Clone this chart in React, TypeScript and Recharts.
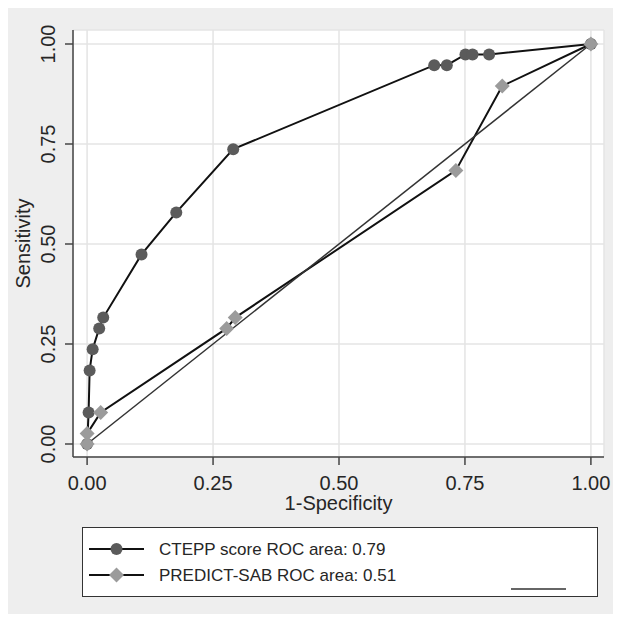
import { ComposedChart, Line, XAxis, YAxis, CartesianGrid, Label } from 'recharts';

// 1-specificity / sensitivity
const cteppFpr = [0, 0.003, 0.005, 0.011, 0.024, 0.032, 0.108, 0.177, 0.29, 0.689, 0.714, 0.751, 0.765, 0.798, 1];
const cteppSens = [0, 0.079, 0.184, 0.237, 0.289, 0.316, 0.474, 0.579, 0.737, 0.947, 0.947, 0.974, 0.974, 0.974, 1];
const predictFpr = [0, 0, 0.027, 0.277, 0.294, 0.732, 0.824, 1];
const predictSens = [0, 0.026, 0.079, 0.289, 0.316, 0.684, 0.895, 1];
const refFpr = [0, 1];
const refSens = [0, 1];
const ticks = [0, 0.25, 0.5, 0.75, 1];
const legendLabels = ['CTEPP score ROC area: 0.79', 'PREDICT-SAB ROC area: 0.51'];

const toPoints = (xs: number[], ys: number[]) => xs.map((x, i) => ({ x, y: ys[i] }));
const ctepp = toPoints(cteppFpr, cteppSens);
const predict = toPoints(predictFpr, predictSens);
const reference = toPoints(refFpr, refSens);

const FONT = '"Liberation Sans", Arial, sans-serif';
const W = 613;
const H = 606;
const PLOT_LEFT = 65;
const PLOT_TOP = 22;
const PLOT_RIGHT = 596;
const PLOT_BOTTOM = 449;
const CIRCLE = '#5b5b5b';
const DIAMOND = '#9b9b9b';
const AXIS = '#444';
const TEXT = '#262626';

const XTick = (props: any) => (
  <text x={props.x} y={PLOT_BOTTOM + 33} textAnchor="middle" fontSize={20} fill={TEXT} fontFamily={FONT}>
    {props.payload.value.toFixed(2)}
  </text>
);

const YTick = (props: any) => (
  <text
    x={46.5}
    y={props.y}
    transform={`rotate(-90 46.5 ${props.y})`}
    textAnchor="middle"
    fontSize={20}
    fill={TEXT}
    fontFamily={FONT}
  >
    {props.payload.value.toFixed(2)}
  </text>
);

const circleDot = (props: any) => (
  <circle key={`c${props.index}`} cx={props.cx} cy={props.cy} r={6} fill={CIRCLE} />
);

const diamondDot = (props: any) => {
  const d = 7.5;
  const { cx, cy } = props;
  return (
    <path
      key={`d${props.index}`}
      d={`M${cx},${cy - d}L${cx + d},${cy}L${cx},${cy + d}L${cx - d},${cy}Z`}
      fill={DIAMOND}
    />
  );
};

function LegendBox() {
  return (
    <div
      style={{
        position: 'absolute',
        left: 74,
        top: 519,
        width: 516,
        height: 70,
        boxSizing: 'border-box',
        border: '1.5px solid #333',
        background: '#fff',
      }}
    >
      <svg width={513} height={67} style={{ display: 'block' }}>
        <line x1={6} x2={61} y1={21} y2={21} stroke="#111" strokeWidth={2} />
        <circle cx={33.5} cy={21} r={6} fill={CIRCLE} />
        <text x={76} y={21} dominantBaseline="central" fontSize={17} fill={TEXT} fontFamily={FONT}>
          {legendLabels[0]}
        </text>
        <line x1={6} x2={61} y1={47} y2={47} stroke="#111" strokeWidth={2} />
        <path d="M33.5,39.5L41,47L33.5,54.5L26,47Z" fill={DIAMOND} />
        <text x={76} y={47} dominantBaseline="central" fontSize={17} fill={TEXT} fontFamily={FONT}>
          {legendLabels[1]}
        </text>
        <line x1={428} x2={483} y1={61} y2={61} stroke="#333" strokeWidth={1.5} />
      </svg>
    </div>
  );
}

export default function App() {
  return (
    <div style={{ position: 'relative', width: W, height: H, background: '#eeeeee' }}>
      <ComposedChart
        width={W}
        height={H}
        margin={{ top: PLOT_TOP, right: W - PLOT_RIGHT, bottom: 0, left: 0 }}
      >
        <CartesianGrid stroke="#e4e4e4" strokeWidth={1.5} fill="#fff" />
        <XAxis
          type="number"
          dataKey="x"
          domain={[-0.028, 1.026]}
          ticks={ticks}
          height={H - PLOT_BOTTOM}
          tick={<XTick />}
          tickSize={8}
          tickLine={{ stroke: AXIS, strokeWidth: 1.5 }}
          axisLine={{ stroke: AXIS, strokeWidth: 1.5 }}
          allowDataOverflow
        >
          <Label
            content={() => (
              <text x={(PLOT_LEFT + PLOT_RIGHT) / 2} y={502} textAnchor="middle" fontSize={20} fill={TEXT} fontFamily={FONT}>
                1-Specificity
              </text>
            )}
          />
        </XAxis>
        <YAxis
          type="number"
          dataKey="y"
          domain={[-0.0325, 1.035]}
          ticks={ticks}
          width={PLOT_LEFT}
          tick={<YTick />}
          tickSize={8}
          tickLine={{ stroke: AXIS, strokeWidth: 1.5 }}
          axisLine={{ stroke: AXIS, strokeWidth: 1.5 }}
          allowDataOverflow
        >
          <Label
            content={() => {
              const cy = (PLOT_TOP + PLOT_BOTTOM) / 2;
              return (
                <text x={22} y={cy} transform={`rotate(-90 22 ${cy})`} textAnchor="middle" fontSize={20} fill={TEXT} fontFamily={FONT}>
                  Sensitivity
                </text>
              );
            }}
          />
        </YAxis>
        <Line
          data={ctepp}
          dataKey="y"
          type="linear"
          stroke="#111"
          strokeWidth={2}
          dot={circleDot}
          activeDot={false}
          isAnimationActive={false}
        />
        <Line
          data={predict}
          dataKey="y"
          type="linear"
          stroke="#111"
          strokeWidth={2}
          dot={diamondDot}
          activeDot={false}
          isAnimationActive={false}
        />
        <Line
          data={reference}
          dataKey="y"
          type="linear"
          stroke="#333"
          strokeWidth={1.5}
          dot={false}
          activeDot={false}
          isAnimationActive={false}
        />
      </ComposedChart>
      <LegendBox />
    </div>
  );
}
